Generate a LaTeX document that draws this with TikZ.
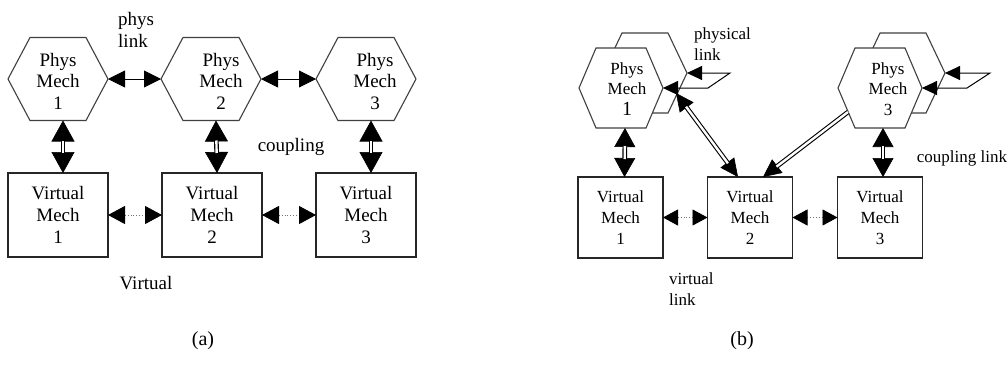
\documentclass[tikz,border=0pt]{standalone}
\usepackage{fontspec}
\setmainfont{Liberation Serif}
\usetikzlibrary{arrows.meta,calc}
\newcommand{\drawhex}[2]{%
  \draw[hexline] (#1.west) -- ([xshift=-#2]#1.north) -- ([xshift=#2]#1.north)
    -- (#1.east) -- ([xshift=#2]#1.south) -- ([xshift=-#2]#1.south) -- cycle;}
\tikzset{
  hexline/.style={draw=black!75, line width=1.1pt, fill=white, line join=miter},
  hexnode/.style={rectangle, draw=none, inner sep=0pt, outer sep=0pt},
  boxa/.style={rectangle, draw=black!85, line width=1.3pt, minimum width=100pt, minimum height=84pt,
    inner sep=0pt, outer sep=0pt, align=center, font=\fontsize{19}{22}\selectfont},
  boxb/.style={rectangle, draw=black!85, line width=1.3pt, minimum width=85pt, minimum height=81pt,
    inner sep=0pt, outer sep=0pt, align=center, font=\fontsize{17}{21}\selectfont},
  txta/.style={align=center, inner sep=0pt, font=\fontsize{19}{21.5}\selectfont},
  txtb/.style={align=center, inner sep=0pt, font=\fontsize{17}{20.5}\selectfont},
  lbla/.style={align=left, inner sep=0pt, font=\fontsize{19}{21.5}\selectfont},
  lblb/.style={align=left, inner sep=0pt, font=\fontsize{17}{21}\selectfont},
  solidarrow/.style={line width=0.9pt, {Triangle[length=17pt,width=17pt]}-{Triangle[length=17pt,width=17pt]}},
  looparrow/.style={line width=1pt, {Triangle[length=15pt,width=14pt]}-{Triangle[length=15pt,width=14pt]}},
  dotarrowa/.style={draw=black!55, line width=0.9pt, dotted,
    {Triangle[length=17pt,width=18pt,black]}-{Triangle[length=17pt,width=18pt,black]}},
  dotarrowb/.style={draw=black!55, line width=0.9pt, dotted,
    {Triangle[length=15pt,width=16pt,black]}-{Triangle[length=15pt,width=16pt,black]}},
  dbltipsa/.style={line width=0.6pt, {Triangle[length=21pt,width=23pt]}-{Triangle[length=21pt,width=23pt]}},
  dbltipsb/.style={line width=0.6pt, {Triangle[length=19pt,width=21pt]}-{Triangle[length=19pt,width=21pt]}},
  diagtips/.style={line width=0.6pt, {Triangle[length=18pt,width=17pt]}-{Triangle[length=18pt,width=17pt]}},
  diagtip/.style={line width=0.6pt, -{Triangle[length=18pt,width=17pt]}},
  dblshaft/.style={draw=black, line width=1.1pt, double=white, double distance=2.4pt},
}
\begin{document}
\begin{tikzpicture}[x=1pt,y=-1pt]
\useasboundingbox[fill=white] (0,0) rectangle (1008,365);

% ---------------- panel (a) ----------------
\node[hexnode, minimum width=100pt, minimum height=83pt] (ha1) at (58,79) {};
\node[hexnode, minimum width=100pt, minimum height=83pt] (ha2) at (211,79) {};
\node[hexnode, minimum width=100pt, minimum height=83pt] (ha3) at (366,79) {};
\drawhex{ha1}{28}
\drawhex{ha2}{28}
\drawhex{ha3}{28}
\node[txta] (ta1) at (58,81) {Phys\\Mech\\1};
\node[txta] (ta2) at (221,81) {Phys\\Mech\\2};
\node[txta] (ta3) at (375,81) {Phys\\Mech\\3};

\node[boxa] (va1) at (58,215) {Virtual\\Mech\\1};
\node[boxa] (va2) at (212,215) {Virtual\\Mech\\2};
\node[boxa] (va3) at (366,215) {Virtual\\Mech\\3};

\draw[solidarrow] (ha1.east) -- (ha2.west);
\draw[solidarrow] (ha2.east) -- (ha3.west);

\foreach \i in {1,2,3}{
  \draw[dbltipsa] ([xshift=5pt]ha\i.south) -- ([xshift=5pt]va\i.north);
  \draw[dblshaft, shorten <=20pt, shorten >=20pt] ([xshift=5pt]ha\i.south) -- ([xshift=5pt]va\i.north);
}

\draw[dotarrowa] (va1.east) -- (va2.west);
\draw[dotarrowa] (va2.east) -- (va3.west);

\node[lbla, anchor=west] (lphys) at (118,30) {phys\\link};
\node[txta] (lcoup) at (291,147) {coupling};
\node[txta] (lvirt) at (146,283) {Virtual};
\node[txta, font=\fontsize{20}{22}\selectfont] (capa) at (203,341) {(a)};

% ---------------- panel (b) ----------------
\node[hexnode, minimum width=84pt, minimum height=80pt] (bk1) at (645,73) {};
\node[hexnode, minimum width=84pt, minimum height=80pt] (bk3) at (903,73) {};
\node[hexnode, minimum width=84pt, minimum height=80pt] (hb1) at (621,88) {};
\node[hexnode, minimum width=84pt, minimum height=80pt] (hb3) at (880,88) {};
\drawhex{bk1}{23}
\drawhex{bk3}{23}
\drawhex{hb1}{25}
\drawhex{hb3}{25}
\node[txtb] (tb1) at (627,89) {Phys\\Mech\\{\fontsize{20}{20}\selectfont 1}};
\node[txtb] (tb3) at (888,89) {Phys\\Mech\\3};

\node[boxb] (vb1) at (620.5,217.5) {Virtual\\Mech\\1};
\node[boxb] (vb2) at (750,217.5) {Virtual\\Mech\\2};
\node[boxb] (vb3) at (880,217.5) {Virtual\\Mech\\3};

% physical links (loops between front and back hex)
\draw[looparrow] (hb1.east) -- ++(45,0) -- ++(22,-15) -- (bk1.east);
\draw[looparrow] (hb3.east) -- ++(45,0) -- ++(23,-15) -- (bk3.east);

% coupling links
\draw[dbltipsb] ([xshift=4pt]hb1.south) -- ([xshift=4pt]vb1.north);
\draw[dblshaft, shorten <=18pt, shorten >=18pt] ([xshift=4pt]hb1.south) -- ([xshift=4pt]vb1.north);
\draw[dbltipsb] ([xshift=3pt]hb3.south) -- ([xshift=3pt]vb3.north);
\draw[dblshaft, shorten <=18pt, shorten >=18pt] ([xshift=3pt]hb3.south) -- ([xshift=3pt]vb3.north);

% diagonal coupling links to virtual mech 2
\coordinate (d1) at ($(hb1.east)+(13,5)$);
\coordinate (d3) at ($(hb3.west)+(10,24)$);
\draw[diagtips] (d1) -- ([xshift=-12pt]vb2.north);
\draw[dblshaft, shorten <=17pt, shorten >=17pt] (d1) -- ([xshift=-12pt]vb2.north);
\draw[diagtip] (d3) -- ([xshift=13pt]vb2.north);
\draw[dblshaft, shorten >=17pt] (d3) -- ([xshift=13pt]vb2.north);

% virtual links
\draw[dotarrowb] (vb1.east) -- (vb2.west);
\draw[dotarrowb] (vb2.east) -- (vb3.west);

\node[lblb, anchor=west] (lphysb) at (694,44) {physical\\link};
\node[lblb, anchor=west] (lvirtb) at (669,289) {virtual\\link};
\node[txtb] (lcoupb) at (962,158) {coupling link};
\node[txta, font=\fontsize{20}{22}\selectfont] (capb) at (742,341) {(b)};
\end{tikzpicture}
\end{document}
